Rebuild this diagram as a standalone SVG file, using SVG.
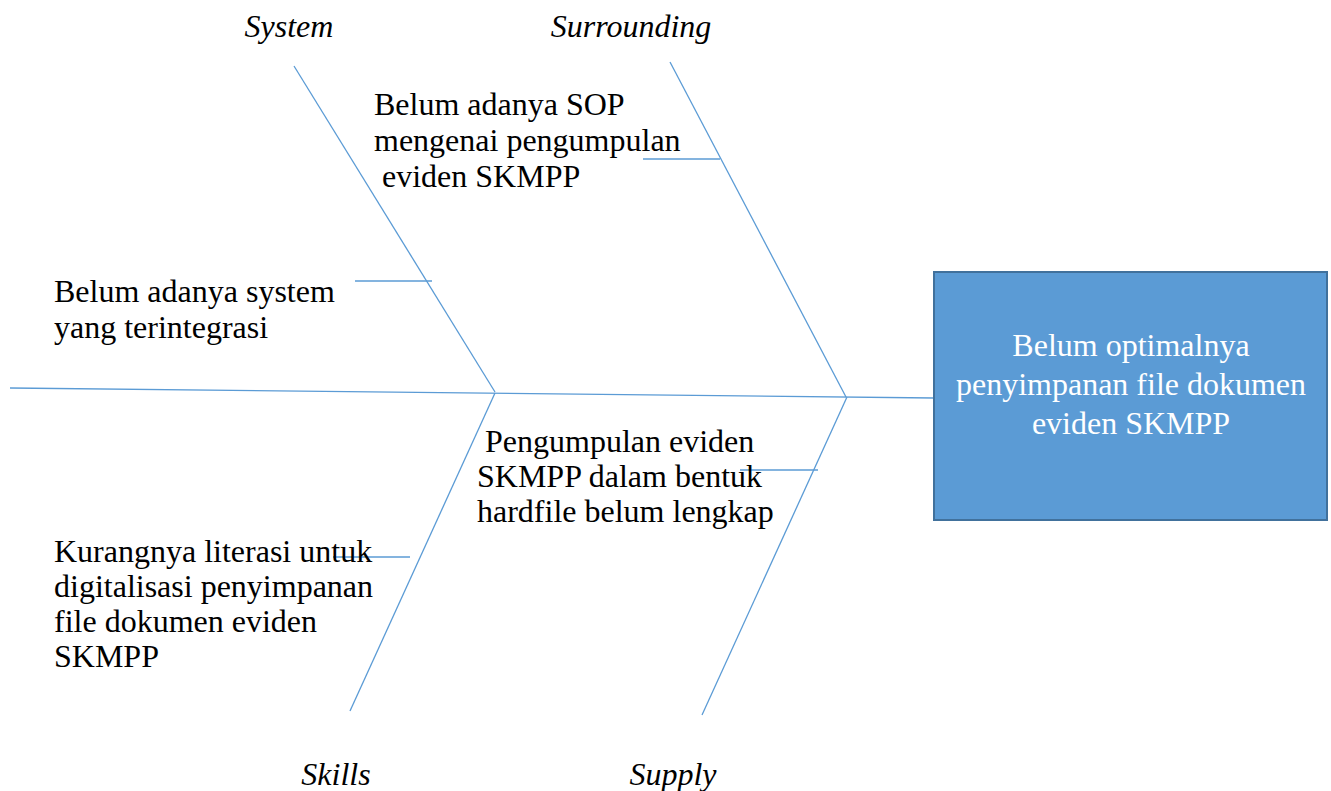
<svg xmlns="http://www.w3.org/2000/svg" width="1331" height="791" viewBox="0 0 1331 791">
<style>
.ln{stroke:#5b9bd5;stroke-width:1.3;fill:none}
.t{font-family:"Liberation Serif","Times New Roman",serif;font-size:32px;fill:#000}
.cat{font-family:"Liberation Serif","Times New Roman",serif;font-size:32px;font-style:italic;fill:#000;text-anchor:middle}
.bt{font-family:"Liberation Serif","Times New Roman",serif;font-size:32px;fill:#fff;text-anchor:middle}
</style>
<rect width="1331" height="791" fill="#fff"/>
<g id="connectors">
<line class="ln" x1="10" y1="388" x2="934" y2="398"/>
<line class="ln" x1="294" y1="66" x2="495" y2="392"/>
<line class="ln" x1="670" y1="62" x2="846" y2="397"/>
<line class="ln" x1="350" y1="711" x2="495" y2="393"/>
<line class="ln" x1="702" y1="715" x2="847" y2="397"/>
<line class="ln" x1="355" y1="281" x2="432" y2="281"/>
<line class="ln" x1="643" y1="159" x2="720" y2="159"/>
<line class="ln" x1="333" y1="557" x2="410" y2="557"/>
<line class="ln" x1="740" y1="470" x2="818" y2="470"/>
</g>
<g id="effect">
<rect x="934" y="272" width="393" height="248" fill="#5b9bd5" stroke="#41719c" stroke-width="2"/>
<text class="bt" x="1131" y="356">Belum optimalnya</text>
<text class="bt" x="1131" y="395">penyimpanan file dokumen</text>
<text class="bt" x="1131" y="434">eviden SKMPP</text>
</g>
<g id="cat-system"><text class="cat" x="289" y="37">System</text></g>
<g id="cat-surrounding"><text class="cat" x="631" y="37">Surrounding</text></g>
<g id="cat-skills"><text class="cat" x="336" y="785">Skills</text></g>
<g id="cat-supply"><text class="cat" x="673" y="785">Supply</text></g>
<g id="cause-sop">
<text class="t" x="374" y="115">Belum adanya SOP</text>
<text class="t" x="374" y="151">mengenai pengumpulan</text>
<text class="t" x="374" y="187" xml:space="preserve"> eviden SKMPP</text>
</g>
<g id="cause-system">
<text class="t" x="54" y="302">Belum adanya system</text>
<text class="t" x="54" y="338">yang terintegrasi</text>
</g>
<g id="cause-hardfile">
<text class="t" x="477" y="452" xml:space="preserve"> Pengumpulan eviden</text>
<text class="t" x="477" y="487">SKMPP dalam bentuk</text>
<text class="t" x="477" y="522">hardfile belum lengkap</text>
</g>
<g id="cause-literasi">
<text class="t" x="54" y="562">Kurangnya literasi untuk</text>
<text class="t" x="54" y="597">digitalisasi penyimpanan</text>
<text class="t" x="54" y="632">file dokumen eviden</text>
<text class="t" x="54" y="667">SKMPP</text>
</g>
</svg>
